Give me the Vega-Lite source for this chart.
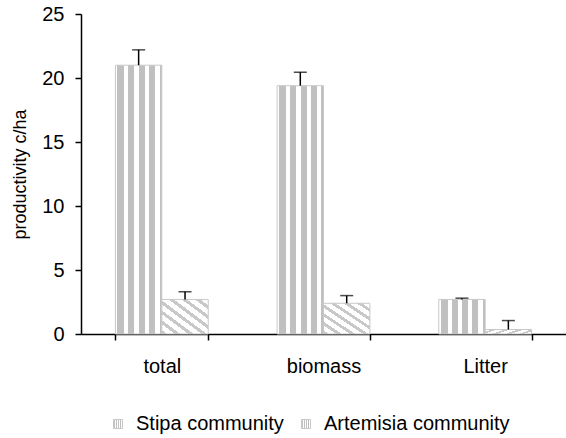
{
  "$schema": "https://vega.github.io/schema/vega-lite/v6.json",
  "width": 485,
  "height": 320,
  "autosize": "none",
  "padding": {"left": 81, "top": 14, "right": 0, "bottom": 104},
  "background": "white",
  "config": {
    "font": "Liberation Sans",
    "view": {"stroke": null},
    "axis": {"labelFont": "Liberation Sans", "titleFont": "Liberation Sans"},
    "legend": {"labelFont": "Liberation Sans"}
  },
  "data": {
    "values": [
      {"category": "total", "community": "Stipa community", "value": 21.0, "upper": 22.2},
      {"category": "total", "community": "Artemisia community", "value": 2.7, "upper": 3.3},
      {"category": "biomass", "community": "Stipa community", "value": 19.4, "upper": 20.45},
      {"category": "biomass", "community": "Artemisia community", "value": 2.4, "upper": 3.0},
      {"category": "Litter", "community": "Stipa community", "value": 2.7, "upper": 2.8},
      {"category": "Litter", "community": "Artemisia community", "value": 0.35, "upper": 1.05}
    ]
  },
  "encoding": {
    "x": {
      "field": "category",
      "type": "nominal",
      "sort": ["total", "biomass", "Litter"],
      "scale": {"paddingInner": 0.426, "paddingOuter": 0.213},
      "axis": {
        "title": null,
        "labelAngle": 0,
        "labelFontSize": 20,
        "labelColor": "black",
        "labelPadding": 16,
        "domainColor": "black",
        "domainWidth": 1.5,
        "tickColor": "black",
        "tickWidth": 1.5,
        "tickSize": 6,
        "tickBand": "extent"
      }
    },
    "xOffset": {
      "field": "community",
      "type": "nominal",
      "sort": ["Stipa community", "Artemisia community"],
      "scale": {"paddingInner": 0, "paddingOuter": 0}
    },
    "y": {
      "field": "value",
      "type": "quantitative",
      "scale": {"domain": [0, 25]},
      "axis": {
        "values": [0, 5, 10, 15, 20, 25],
        "grid": false,
        "title": "productivity c/ha",
        "titleFontSize": 18,
        "titleFontWeight": "normal",
        "titleColor": "black",
        "titlePadding": 12,
        "labelFontSize": 20,
        "labelColor": "black",
        "labelPadding": 11,
        "domainColor": "black",
        "domainWidth": 1.5,
        "tickColor": "black",
        "tickWidth": 1.5,
        "tickSize": 6
      }
    }
  },
  "layer": [
    {
      "transform": [{"filter": "datum.community === 'Stipa community'"}],
      "mark": {
        "type": "bar",
        "strokeWidth": 1,
        "fill": {
          "gradient": "linear", "x1": 0, "y1": 0, "x2": 1, "y2": 0,
          "stops": [
            {"offset": 0, "color": "#ffffff"},
            {"offset": 0.04, "color": "#ffffff"},
            {"offset": 0.04, "color": "#c0c0c0"},
            {"offset": 0.19, "color": "#c0c0c0"},
            {"offset": 0.19, "color": "#ffffff"},
            {"offset": 0.28, "color": "#ffffff"},
            {"offset": 0.28, "color": "#c0c0c0"},
            {"offset": 0.41, "color": "#c0c0c0"},
            {"offset": 0.41, "color": "#ffffff"},
            {"offset": 0.51, "color": "#ffffff"},
            {"offset": 0.51, "color": "#c0c0c0"},
            {"offset": 0.64, "color": "#c0c0c0"},
            {"offset": 0.64, "color": "#ffffff"},
            {"offset": 0.72, "color": "#ffffff"},
            {"offset": 0.72, "color": "#c0c0c0"},
            {"offset": 0.85, "color": "#c0c0c0"},
            {"offset": 0.85, "color": "#ffffff"},
            {"offset": 0.95, "color": "#ffffff"},
            {"offset": 0.95, "color": "#c0c0c0"},
            {"offset": 1, "color": "#c0c0c0"}
          ]
        }
      },
      "encoding": {
        "stroke": {
          "field": "community",
          "type": "nominal",
          "scale": {
            "domain": ["Stipa community", "Artemisia community"],
            "range": ["#c8c8c8", "#c8c8c8"]
          },
          "legend": {
            "title": null,
            "orient": "none",
            "legendX": 27,
            "legendY": 400,
            "direction": "horizontal",
            "labelFontSize": 20,
            "labelColor": "black",
            "labelLimit": 400,
            "symbolType": "square",
            "symbolSize": 81,
            "symbolStrokeWidth": 1,
            "labelOffset": 8,
            "columnPadding": 12,
            "encode": {
              "symbols": {
                "update": {
                  "fill": {"signal": "datum.value === 'Stipa community' ? {gradient: 'linear', x1: 0, y1: 0, x2: 1, y2: 0, stops: [{offset: 0, color: '#ffffff'}, {offset: 0.2, color: '#ffffff'}, {offset: 0.2, color: '#b0b0b0'}, {offset: 0.45, color: '#b0b0b0'}, {offset: 0.45, color: '#ffffff'}, {offset: 0.6, color: '#ffffff'}, {offset: 0.6, color: '#b0b0b0'}, {offset: 0.85, color: '#b0b0b0'}, {offset: 0.85, color: '#ffffff'}, {offset: 1, color: '#ffffff'}]} : {gradient: 'linear', x1: 0, y1: 1, x2: 1, y2: 0, stops: [{offset: 0, color: '#ffffff'}, {offset: 0.4, color: '#ffffff'}, {offset: 0.4, color: '#b8b8b8'}, {offset: 0.6, color: '#b8b8b8'}, {offset: 0.6, color: '#ffffff'}, {offset: 1, color: '#ffffff'}]}"},
                  "opacity": {"value": 1}
                }
              }
            }
          }
        }
      }
    },
    {
      "transform": [{"filter": "datum.community === 'Artemisia community'"}],
      "mark": {
        "type": "bar",
        "strokeWidth": 1,
        "fill": {
          "gradient": "linear", "x1": 0, "y1": 1, "x2": 1, "y2": 0,
          "stops": [
            {"offset": 0, "color": "#c8c8c8"},
            {"offset": 0.057, "color": "#c8c8c8"},
            {"offset": 0.057, "color": "#ffffff"},
            {"offset": 0.1429, "color": "#ffffff"},
            {"offset": 0.1429, "color": "#c8c8c8"},
            {"offset": 0.2, "color": "#c8c8c8"},
            {"offset": 0.2, "color": "#ffffff"},
            {"offset": 0.2857, "color": "#ffffff"},
            {"offset": 0.2857, "color": "#c8c8c8"},
            {"offset": 0.3429, "color": "#c8c8c8"},
            {"offset": 0.3429, "color": "#ffffff"},
            {"offset": 0.4286, "color": "#ffffff"},
            {"offset": 0.4286, "color": "#c8c8c8"},
            {"offset": 0.4857, "color": "#c8c8c8"},
            {"offset": 0.4857, "color": "#ffffff"},
            {"offset": 0.5714, "color": "#ffffff"},
            {"offset": 0.5714, "color": "#c8c8c8"},
            {"offset": 0.6286, "color": "#c8c8c8"},
            {"offset": 0.6286, "color": "#ffffff"},
            {"offset": 0.7143, "color": "#ffffff"},
            {"offset": 0.7143, "color": "#c8c8c8"},
            {"offset": 0.7714, "color": "#c8c8c8"},
            {"offset": 0.7714, "color": "#ffffff"},
            {"offset": 0.8571, "color": "#ffffff"},
            {"offset": 0.8571, "color": "#c8c8c8"},
            {"offset": 0.9143, "color": "#c8c8c8"},
            {"offset": 0.9143, "color": "#ffffff"},
            {"offset": 1, "color": "#ffffff"}
          ]
        }
      },
      "encoding": {
        "stroke": {"field": "community", "type": "nominal"}
      }
    },
    {
      "mark": {"type": "rule", "color": "black", "strokeWidth": 1.5},
      "encoding": {
        "y2": {"field": "upper"}
      }
    },
    {
      "mark": {"type": "tick", "color": "black", "thickness": 1.5, "size": 13},
      "encoding": {
        "y": {"field": "upper", "type": "quantitative"}
      }
    }
  ]
}
